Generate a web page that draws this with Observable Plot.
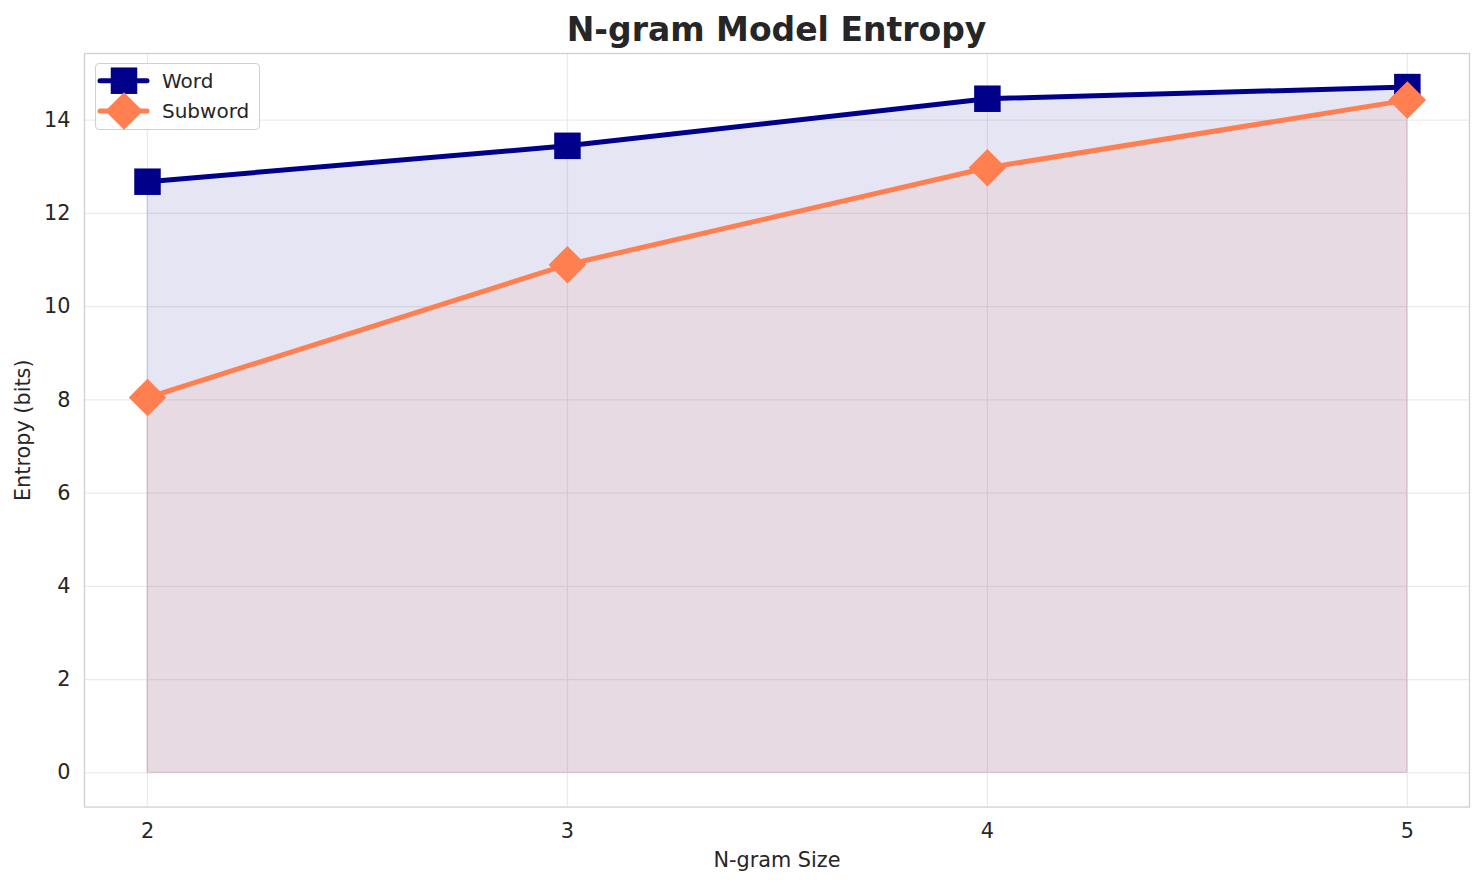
<!DOCTYPE html>
<html>
<head>
<meta charset="utf-8">
<script src="https://cdn.jsdelivr.net/npm/d3@7"></script>
<script src="https://cdn.jsdelivr.net/npm/@observablehq/plot@0.6"></script>
<style>
  html, body { margin: 0; padding: 0; background: #fff; }
  #wrap { position: relative; width: 1484px; height: 885px; font-family: "DejaVu Sans", sans-serif; color: #262626; }
  #title { position: absolute; left: 84px; width: 1385px; top: 13px; text-align: center; font: bold 33px/1 "DejaVu Sans", sans-serif; color: #262626; }
  #chart { position: absolute; left: 0; top: 40px; }
  #legend { position: absolute; left: 95px; top: 63px; width: 165px; height: 67px; border: 1.3px solid #d0d0d0; border-radius: 4px; background: rgba(255,255,255,0.8); box-sizing: border-box; }
</style>
</head>
<body>
<div id="wrap">
  <div id="title">N-gram Model Entropy</div>
  <div id="chart"></div>
  <div id="legend"></div>
</div>
<script>
const ngramSizes = [2, 3, 4, 5];
const wordEntropy = [12.68, 13.45, 14.46, 14.71];
const subwordEntropy = [8.05, 10.90, 12.98, 14.43];
const seriesNames = ["Word", "Subword"];
const seriesColors = ["#00008b", "#ff7f50"];
const yTicks = [0, 2, 4, 6, 8, 10, 12, 14];

const wordRows = ngramSizes.map((n, i) => ({n, v: wordEntropy[i]}));
const subRows = ngramSizes.map((n, i) => ({n, v: subwordEntropy[i]}));

const FS = 20.8;
const chart = Plot.plot({
  width: 1484,
  height: 845,
  marginLeft: 84,
  marginRight: 15,
  marginTop: 13,
  marginBottom: 78.4,
  style: {fontFamily: "DejaVu Sans, sans-serif", fontSize: FS + "px", color: "#262626", background: "transparent"},
  x: {domain: [1.85, 5.148]},
  y: {domain: [-0.735, 15.43]},
  marks: [
    Plot.gridX(ngramSizes, {stroke: "#ebebeb", strokeOpacity: 1, strokeWidth: 1.3}),
    Plot.gridY(yTicks, {stroke: "#ebebeb", strokeOpacity: 1, strokeWidth: 1.3}),
    Plot.areaY(wordRows, {x: "n", y: "v", fill: seriesColors[0], fillOpacity: 0.1, stroke: seriesColors[0], strokeOpacity: 0.1, strokeWidth: 1.3}),
    Plot.areaY(subRows, {x: "n", y: "v", fill: seriesColors[1], fillOpacity: 0.1, stroke: seriesColors[1], strokeOpacity: 0.1, strokeWidth: 1.3}),
    Plot.lineY(wordRows, {x: "n", y: "v", stroke: seriesColors[0], strokeWidth: 5}),
    Plot.dot(wordRows, {x: "n", y: "v", symbol: "square", r: 14.95, fill: seriesColors[0], stroke: "none"}),
    Plot.lineY(subRows, {x: "n", y: "v", stroke: seriesColors[1], strokeWidth: 5}),
    Plot.dot(subRows, {x: "n", y: "v", symbol: "diamond2", r: 16.9, fill: seriesColors[1], stroke: "none"}),
    Plot.frame({stroke: "#d0d0d0", strokeWidth: 1.3}),
    Plot.axisX({ticks: ngramSizes, tickFormat: d => String(d), tickSize: 0, tickPadding: 16.6, fontSize: FS,
      label: "N-gram Size", labelAnchor: "center", labelArrow: "none", labelOffset: 59.5}),
    Plot.axisY({ticks: yTicks, tickFormat: d => String(d), tickSize: 0, tickPadding: 14, fontSize: FS,
      label: "Entropy (bits)", labelAnchor: "center", labelArrow: "none", labelOffset: 69})
  ]
});
document.getElementById("chart").appendChild(chart);

// legend
const ns = "http://www.w3.org/2000/svg";
const lg = document.createElementNS(ns, "svg");
lg.setAttribute("width", 165);
lg.setAttribute("height", 67);
lg.style.position = "absolute";
lg.style.left = "-1.3px";
lg.style.top = "-1.3px";
lg.style.overflow = "visible";
const rowsY = [17.7, 48];
seriesNames.forEach((name, i) => {
  const y = rowsY[i];
  const line = document.createElementNS(ns, "line");
  line.setAttribute("x1", 5); line.setAttribute("x2", 52);
  line.setAttribute("y1", y); line.setAttribute("y2", y);
  line.setAttribute("stroke", seriesColors[i]);
  line.setAttribute("stroke-width", 5);
  line.setAttribute("stroke-linecap", "round");
  lg.appendChild(line);
  const p = document.createElementNS(ns, "path");
  const cx = 29;
  if (i === 0) {
    const h = 13.25;
    p.setAttribute("d", `M${cx-h},${y-h}H${cx+h}V${y+h}H${cx-h}Z`);
  } else {
    const h = 18.8;
    p.setAttribute("d", `M${cx},${y-h}L${cx+h},${y}L${cx},${y+h}L${cx-h},${y}Z`);
  }
  p.setAttribute("fill", seriesColors[i]);
  lg.appendChild(p);
  const t = document.createElementNS(ns, "text");
  t.setAttribute("x", 67);
  t.setAttribute("y", y + 7.3);
  t.setAttribute("font-family", "DejaVu Sans, sans-serif");
  t.setAttribute("font-size", 20);
  t.setAttribute("fill", "#262626");
  t.textContent = name;
  lg.appendChild(t);
});
document.getElementById("legend").appendChild(lg);
</script>
</body>
</html>
